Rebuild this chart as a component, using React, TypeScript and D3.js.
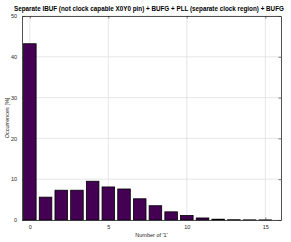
import { useRef, useEffect } from 'react';
import * as d3 from 'd3';

const counts = [0, 1, 2, 3, 4, 5, 6, 7, 8, 9, 10, 11, 12, 13, 14, 15];
const occurrences = [43.2, 5.6, 7.3, 7.3, 9.5, 8.1, 7.6, 5.2, 3.5, 2.0, 1.1, 0.5, 0.2, 0.06, 0.03, 0.02];
const xTicks = [0, 5, 10, 15];
const yTicks = [0, 10, 20, 30, 40, 50];

const title = 'Separate IBUF (not clock capable X0Y0 pin) + BUFG + PLL (separate clock region) + BUFG';

const width = 291;
const height = 242;
const margin = { top: 16, left: 22, bottom: 22, right: 10 };

const axisColor = '#262626';

const Chart = () => {
  const ref = useRef<SVGSVGElement>(null);

  useEffect(() => {
    document.body.style.margin = '0';
    const svg = d3.select(ref.current);
    svg.selectAll('*').remove();

    const x = d3
      .scaleLinear()
      .domain([-0.5, 16])
      .range([margin.left, width - margin.right]);

    const y = d3
      .scaleLinear()
      .domain([0, 50])
      .range([height - margin.bottom, margin.top]);

    const barW = x(0.8) - x(0);

    // grid
    svg
      .append('g')
      .selectAll('line.gx')
      .data(xTicks)
      .enter()
      .append('line')
      .attr('x1', (d) => x(d))
      .attr('x2', (d) => x(d))
      .attr('y1', y(0))
      .attr('y2', y(50))
      .attr('stroke', '#dfdfdf')
      .attr('stroke-width', 0.8);

    svg
      .append('g')
      .selectAll('line.gy')
      .data(yTicks)
      .enter()
      .append('line')
      .attr('x1', x(-0.5))
      .attr('x2', x(16))
      .attr('y1', (d) => y(d))
      .attr('y2', (d) => y(d))
      .attr('stroke', '#dfdfdf')
      .attr('stroke-width', 0.8);

    // bars
    svg
      .append('g')
      .selectAll('rect')
      .data(counts)
      .enter()
      .append('rect')
      .attr('x', (d) => x(d) - barW / 2)
      .attr('y', (d, i) => y(occurrences[i]))
      .attr('width', barW)
      .attr('height', (d, i) => y(0) - y(occurrences[i]))
      .attr('fill', '#440154')
      .attr('stroke', '#000')
      .attr('stroke-width', 0.8);

    const styleAxis = (g) => {
      g.select('.domain').attr('stroke', axisColor).attr('stroke-width', 0.8);
      g.selectAll('.tick line').attr('stroke', axisColor).attr('stroke-width', 0.6);
      g.selectAll('text')
        .attr('fill', axisColor)
        .style('font-family', 'Helvetica, Arial, "Liberation Sans", sans-serif')
        .style('font-size', '5.5px');
    };

    svg
      .append('g')
      .attr('transform', `translate(0, ${y(0)})`)
      .call(d3.axisBottom(x).tickValues(xTicks).tickSizeInner(-2.5).tickSizeOuter(0).tickPadding(5))
      .call(styleAxis);

    svg
      .append('g')
      .attr('transform', `translate(0, ${y(50)})`)
      .call(d3.axisTop(x).tickValues(xTicks).tickSizeInner(-2.5).tickSizeOuter(0).tickFormat(() => ''))
      .call(styleAxis);

    svg
      .append('g')
      .attr('transform', `translate(${x(-0.5)}, 0)`)
      .call(d3.axisLeft(y).tickValues(yTicks).tickSizeInner(-2.5).tickSizeOuter(0).tickPadding(5))
      .call(styleAxis);

    svg
      .append('g')
      .attr('transform', `translate(${x(16)}, 0)`)
      .call(d3.axisRight(y).tickValues(yTicks).tickSizeInner(-2.5).tickSizeOuter(0).tickFormat(() => ''))
      .call(styleAxis);

    const font = 'Helvetica, Arial, "Liberation Sans", sans-serif';

    svg
      .append('text')
      .attr('x', 149)
      .attr('y', 11)
      .attr('text-anchor', 'middle')
      .style('font-family', font)
      .style('font-size', '6.3px')
      .style('font-weight', 'bold')
      .attr('fill', '#000')
      .text(title);

    svg
      .append('text')
      .attr('x', (x(-0.5) + x(16)) / 2)
      .attr('y', 237)
      .attr('text-anchor', 'middle')
      .style('font-family', font)
      .style('font-size', '5.5px')
      .attr('fill', axisColor)
      .text("Number of '1'");

    svg
      .append('text')
      .attr('transform', `translate(9, ${(y(0) + y(50)) / 2}) rotate(-90)`)
      .attr('text-anchor', 'middle')
      .style('font-family', font)
      .style('font-size', '5.5px')
      .attr('fill', axisColor)
      .text('Occurrences [%]');
  }, []);

  return <svg ref={ref} width={width} height={height} style={{ display: 'block', background: '#fff' }}></svg>;
};

export default function App() {
  return <Chart />;
}
